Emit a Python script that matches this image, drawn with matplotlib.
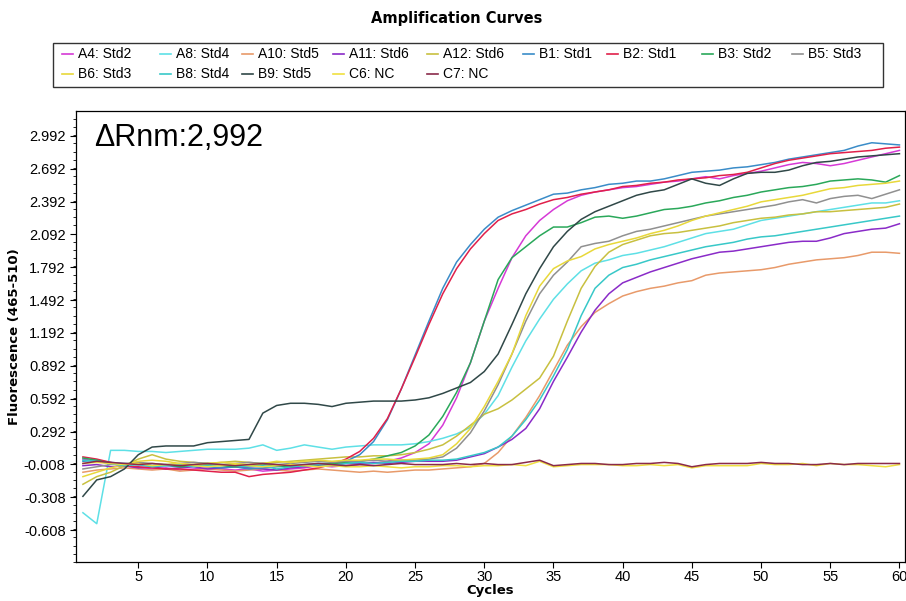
import matplotlib
matplotlib.use('Agg')
import matplotlib.pyplot as plt
from matplotlib.lines import Line2D
from matplotlib.patches import Rectangle
from matplotlib.ticker import MultipleLocator
import numpy as np

plt.rcParams['font.family'] = ['Liberation Sans', 'DejaVu Sans']

cycles = list(range(1, 61))

# fluorescence per well, one value per cycle
A4 = [0.04, 0.02, 0.0, -0.02, -0.04, -0.05, -0.04, -0.06, -0.05, -0.04,
      -0.05, -0.06, -0.05, -0.07, -0.06, -0.05, -0.04, -0.02, -0.03, -0.02,
      -0.01, 0.0, 0.02, 0.05, 0.1, 0.18, 0.35, 0.6, 0.92, 1.3,
      1.6, 1.88, 2.08, 2.22, 2.32, 2.4, 2.45, 2.48, 2.5, 2.52,
      2.53, 2.55, 2.57, 2.58, 2.6, 2.62, 2.6, 2.63, 2.65, 2.67,
      2.7, 2.73, 2.75, 2.74, 2.72, 2.74, 2.77, 2.8, 2.83, 2.86]
A8 = [-0.45, -0.55, 0.12, 0.12, 0.11, 0.11, 0.1, 0.11, 0.12, 0.13,
      0.13, 0.13, 0.14, 0.17, 0.12, 0.14, 0.17, 0.15, 0.13, 0.15,
      0.16, 0.17, 0.17, 0.17, 0.18, 0.2, 0.23, 0.27, 0.33, 0.45,
      0.62, 0.88, 1.12, 1.32, 1.5, 1.64, 1.76, 1.83, 1.86, 1.9,
      1.92, 1.95, 1.98, 2.02, 2.06, 2.1, 2.12, 2.14, 2.18, 2.22,
      2.24, 2.26, 2.28, 2.3, 2.32, 2.34, 2.36, 2.38, 2.38, 2.4]
A10 = [-0.08, -0.06, -0.05, -0.04, -0.05, -0.06, -0.05, -0.07, -0.06, -0.05,
       -0.06, -0.07, -0.06, -0.05, -0.06, -0.07, -0.06, -0.05, -0.06, -0.07,
       -0.08, -0.07, -0.08, -0.07, -0.06, -0.06, -0.05, -0.04, -0.03, 0.0,
       0.1, 0.25, 0.42, 0.62, 0.85, 1.08, 1.25, 1.38, 1.46, 1.53,
       1.57, 1.6, 1.62, 1.65, 1.67, 1.72, 1.74, 1.75, 1.76, 1.77,
       1.79, 1.82, 1.84, 1.86, 1.87, 1.88, 1.9, 1.93, 1.93, 1.92]
A11 = [-0.02, -0.01, -0.03, -0.02, -0.04, -0.03, -0.05, -0.04, -0.03, -0.05,
       -0.04, -0.03, -0.04, -0.05, -0.06, -0.04, -0.03, -0.02, -0.01, 0.0,
       0.0, 0.01, 0.0, 0.01, 0.02, 0.02, 0.02, 0.03, 0.06, 0.09,
       0.15, 0.22, 0.32, 0.5, 0.75, 0.97, 1.2, 1.4, 1.55, 1.65,
       1.7, 1.75, 1.79, 1.83, 1.87, 1.9, 1.93, 1.94, 1.96, 1.98,
       2.0, 2.02, 2.03, 2.03, 2.06, 2.1, 2.12, 2.14, 2.15, 2.19]
A12 = [-0.19, -0.12, -0.08, -0.02, 0.04, 0.08, 0.04, 0.02, 0.01, 0.0,
       0.01, 0.02, 0.01, 0.0, 0.01, 0.02, 0.03, 0.04, 0.05, 0.06,
       0.06, 0.07, 0.07, 0.08, 0.1, 0.13, 0.17, 0.25, 0.35, 0.45,
       0.5, 0.58, 0.68, 0.78, 0.98, 1.3, 1.6, 1.8, 1.93, 2.0,
       2.04, 2.08, 2.1, 2.11, 2.13, 2.15, 2.17, 2.2, 2.22, 2.24,
       2.25, 2.27, 2.28, 2.3, 2.3, 2.31, 2.32, 2.33, 2.34, 2.37]
B1 = [0.02, 0.03, 0.01, 0.0, -0.01, -0.02, -0.02, -0.03, -0.02, -0.03,
      -0.04, -0.03, -0.05, -0.04, -0.03, -0.02, -0.01, 0.0, 0.0, 0.02,
      0.08, 0.2, 0.4, 0.68, 0.99, 1.3, 1.6, 1.84, 2.0, 2.14,
      2.25, 2.31, 2.36, 2.41, 2.46, 2.47, 2.5, 2.52, 2.55, 2.56,
      2.58, 2.58, 2.6, 2.63, 2.66, 2.67, 2.68, 2.7, 2.71, 2.73,
      2.75, 2.78, 2.8, 2.82, 2.84, 2.86, 2.9, 2.93, 2.92, 2.91]
B2 = [0.06, 0.04, 0.01, -0.02, -0.03, -0.04, -0.05, -0.05, -0.06, -0.07,
      -0.08, -0.08, -0.12, -0.1, -0.09, -0.08, -0.06, -0.04, -0.01, 0.04,
      0.11, 0.23, 0.41, 0.68, 0.97, 1.27, 1.55, 1.78, 1.96, 2.1,
      2.22, 2.28, 2.32, 2.37, 2.41, 2.43, 2.46, 2.48, 2.5, 2.53,
      2.54, 2.56, 2.57, 2.59, 2.6, 2.61, 2.63, 2.64, 2.66, 2.7,
      2.74, 2.77, 2.79, 2.81, 2.83, 2.84, 2.85, 2.86, 2.88, 2.89]
B3 = [0.05, 0.03, 0.0, -0.01, 0.0, -0.02, -0.01, -0.03, -0.02, -0.01,
      -0.02, -0.03, -0.02, -0.01, -0.02, -0.03, -0.02, -0.01, 0.0, 0.01,
      0.02, 0.04, 0.07, 0.1, 0.16, 0.26, 0.43, 0.65, 0.92, 1.3,
      1.68, 1.88, 1.98, 2.08, 2.16, 2.16, 2.2, 2.25, 2.26, 2.24,
      2.26, 2.29, 2.32, 2.33, 2.35, 2.38, 2.4, 2.43, 2.45, 2.48,
      2.5, 2.52, 2.53, 2.55, 2.58, 2.59, 2.6, 2.59, 2.57, 2.63]
B5 = [-0.05, -0.03, -0.01, 0.0, 0.01, 0.0, -0.01, 0.0, 0.01, 0.0,
      -0.01, 0.0, 0.01, 0.0, -0.01, 0.0, 0.01, 0.02, 0.01, 0.02,
      0.02, 0.03, 0.02, 0.03, 0.03, 0.04, 0.06, 0.14, 0.28, 0.48,
      0.72, 1.0, 1.3, 1.55, 1.72, 1.84, 1.98, 2.01, 2.03, 2.08,
      2.12, 2.14, 2.17, 2.2, 2.23, 2.26, 2.28, 2.3, 2.32, 2.34,
      2.36, 2.39, 2.41, 2.38, 2.42, 2.44, 2.45, 2.42, 2.46, 2.5]
B6 = [-0.12, -0.08, -0.04, -0.01, 0.02, 0.03, 0.02, 0.0, -0.01, 0.0,
      0.01, 0.0, -0.01, 0.0, 0.02, 0.01, 0.02, 0.03, 0.02, 0.03,
      0.03, 0.04, 0.04, 0.03, 0.04, 0.05, 0.08, 0.18, 0.32, 0.52,
      0.75, 1.0, 1.35, 1.62, 1.78, 1.85, 1.89, 1.96, 2.0, 2.03,
      2.06, 2.1, 2.13, 2.17, 2.22, 2.26, 2.29, 2.32, 2.35, 2.39,
      2.41, 2.43, 2.45, 2.48, 2.51, 2.52, 2.54, 2.55, 2.56, 2.58]
B8 = [0.03, 0.02, 0.0, -0.02, -0.01, -0.03, -0.02, -0.01, -0.03, -0.02,
      -0.01, -0.02, -0.03, -0.02, -0.05, -0.03, -0.02, -0.01, -0.02, 0.0,
      0.01, 0.0, 0.01, 0.02, 0.02, 0.03, 0.03, 0.04, 0.07, 0.1,
      0.15, 0.25, 0.4, 0.58, 0.8, 1.04, 1.35, 1.6, 1.72, 1.79,
      1.82, 1.86, 1.89, 1.92, 1.95, 1.98, 2.0, 2.02, 2.05, 2.07,
      2.08, 2.1, 2.12, 2.14, 2.16, 2.18, 2.2, 2.22, 2.24, 2.26]
B9 = [-0.3, -0.15, -0.12, -0.05, 0.08, 0.15, 0.16, 0.16, 0.16, 0.19,
      0.2, 0.21, 0.22, 0.46, 0.53, 0.55, 0.55, 0.54, 0.52, 0.55,
      0.56, 0.57, 0.57, 0.57, 0.58, 0.6, 0.64, 0.69, 0.74, 0.84,
      1.0, 1.27, 1.55, 1.78, 1.98, 2.12, 2.23, 2.3, 2.35, 2.4,
      2.45, 2.48, 2.5, 2.55, 2.6, 2.56, 2.54, 2.6, 2.65, 2.66,
      2.66, 2.68, 2.72, 2.75, 2.76, 2.78, 2.8, 2.81, 2.82, 2.83]
C6 = [0.0, 0.01, 0.0, -0.01, 0.0, -0.02, -0.01, 0.0, -0.02, -0.03,
      -0.02, -0.01, -0.02, -0.03, -0.02, -0.01, -0.02, -0.03, -0.02, -0.03,
      -0.03, -0.02, -0.03, -0.04, -0.03, -0.03, -0.02, -0.02, -0.03, -0.02,
      -0.02, -0.01, -0.02, 0.02, -0.03, -0.02, -0.01, -0.01, -0.01, -0.02,
      -0.02, -0.01, -0.02, -0.01, -0.04, -0.02, -0.02, -0.02, -0.02, 0.0,
      -0.01, -0.01, 0.0, -0.02, 0.0, -0.01, -0.01, -0.02, -0.03, -0.01]
C7 = [0.0, 0.02, 0.01, 0.0, -0.01, 0.0, -0.01, -0.02, -0.01, 0.0,
      -0.01, -0.02, -0.01, 0.0, -0.01, -0.02, -0.01, 0.0, -0.01, -0.02,
      -0.01, -0.02, -0.01, 0.0, -0.01, -0.01, -0.01, 0.0, -0.01, 0.0,
      -0.01, -0.01, 0.01, 0.03, -0.02, -0.01, 0.0, 0.0, -0.01, -0.01,
      0.0, 0.0, 0.01, 0.0, -0.03, -0.01, 0.0, 0.0, 0.0, 0.01,
      0.0, 0.0, -0.01, -0.01, 0.0, -0.01, 0.0, 0.0, 0.0, 0.0]

names = ['A4: Std2', 'A8: Std4', 'A10: Std5', 'A11: Std6', 'A12: Std6',
         'B1: Std1', 'B2: Std1', 'B3: Std2', 'B5: Std3',
         'B6: Std3', 'B8: Std4', 'B9: Std5', 'C6: NC', 'C7: NC']
series = [A4, A8, A10, A11, A12, B1, B2, B3, B5, B6, B8, B9, C6, C7]
colors = ['#d63ad6', '#5ee0e6', '#e89a6a', '#8a2bc8', '#c8c040',
          '#3a8cc8', '#e0204a', '#2aa85a', '#909090',
          '#e8d83a', '#38c8c8', '#304848', '#f0e040', '#8a2a4a']

yticks = [-0.608, -0.308, -0.008, 0.292, 0.592, 0.892, 1.192, 1.492,
          1.792, 2.092, 2.392, 2.692, 2.992]
xticks = [5, 10, 15, 20, 25, 30, 35, 40, 45, 50, 55, 60]

fig = plt.figure(figsize=(9.06, 6.01), dpi=100)
ax = fig.add_axes([76/906, 1-562/601, (905-76)/906, (562-111)/601])

for s, c in zip(series, colors):
    ax.plot(cycles, s, color=c, lw=1.1)

ax.set_xlim(0.5, 60.4)
ax.set_ylim(-0.90, 3.22)
ax.set_yticks(yticks)
ax.set_yticklabels(['%.3f' % t for t in yticks])
ax.yaxis.set_minor_locator(MultipleLocator(0.075))
ax.set_xticks(xticks)
ax.tick_params(axis='both', which='major', length=4, labelsize=10.5, width=0.8)
ax.tick_params(axis='x', which='major', pad=2)
ax.tick_params(axis='y', which='minor', length=2, width=0.6)
for sp in ax.spines.values():
    sp.set_linewidth(0.9)
ax.set_xlabel('Cycles', fontsize=9.5, fontweight='bold', labelpad=0,
              family=['DejaVu Sans'])
ax.set_ylabel('Fluorescence (465-510)', fontsize=9.5, fontweight='bold', labelpad=2,
              family=['DejaVu Sans'])
ax.text(0.022, 0.94, '\u0394Rnm:2,992', transform=ax.transAxes, fontsize=22,
        va='center', ha='left')

fig.text(457/906, 1-18/601, 'Amplification Curves', ha='center', va='center',
         fontsize=10.5, fontweight='bold', family=['DejaVu Sans'])

# hand-made legend box, 9 columns x 2 rows
fig.add_artist(Rectangle((53/906, 1-87/601), (883-53)/906, (87-43)/601,
                         transform=fig.transFigure, fill=False, lw=1.0, ec='#333333'))
col_x = [62, 160, 242, 333, 427, 523, 607, 702, 792]
row_y = [54, 74]
for i, (n, c) in enumerate(zip(names, colors)):
    r, k = (0, i) if i < 9 else (1, i - 9)
    x0 = col_x[k]
    y0 = 1 - row_y[r]/601
    fig.add_artist(Line2D([x0/906, (x0+11)/906], [y0, y0], transform=fig.transFigure,
                          color=c, lw=1.2))
    fig.text((x0+16)/906, y0, n, fontsize=10, va='center', ha='left')

fig.savefig('out.png', dpi=100)
